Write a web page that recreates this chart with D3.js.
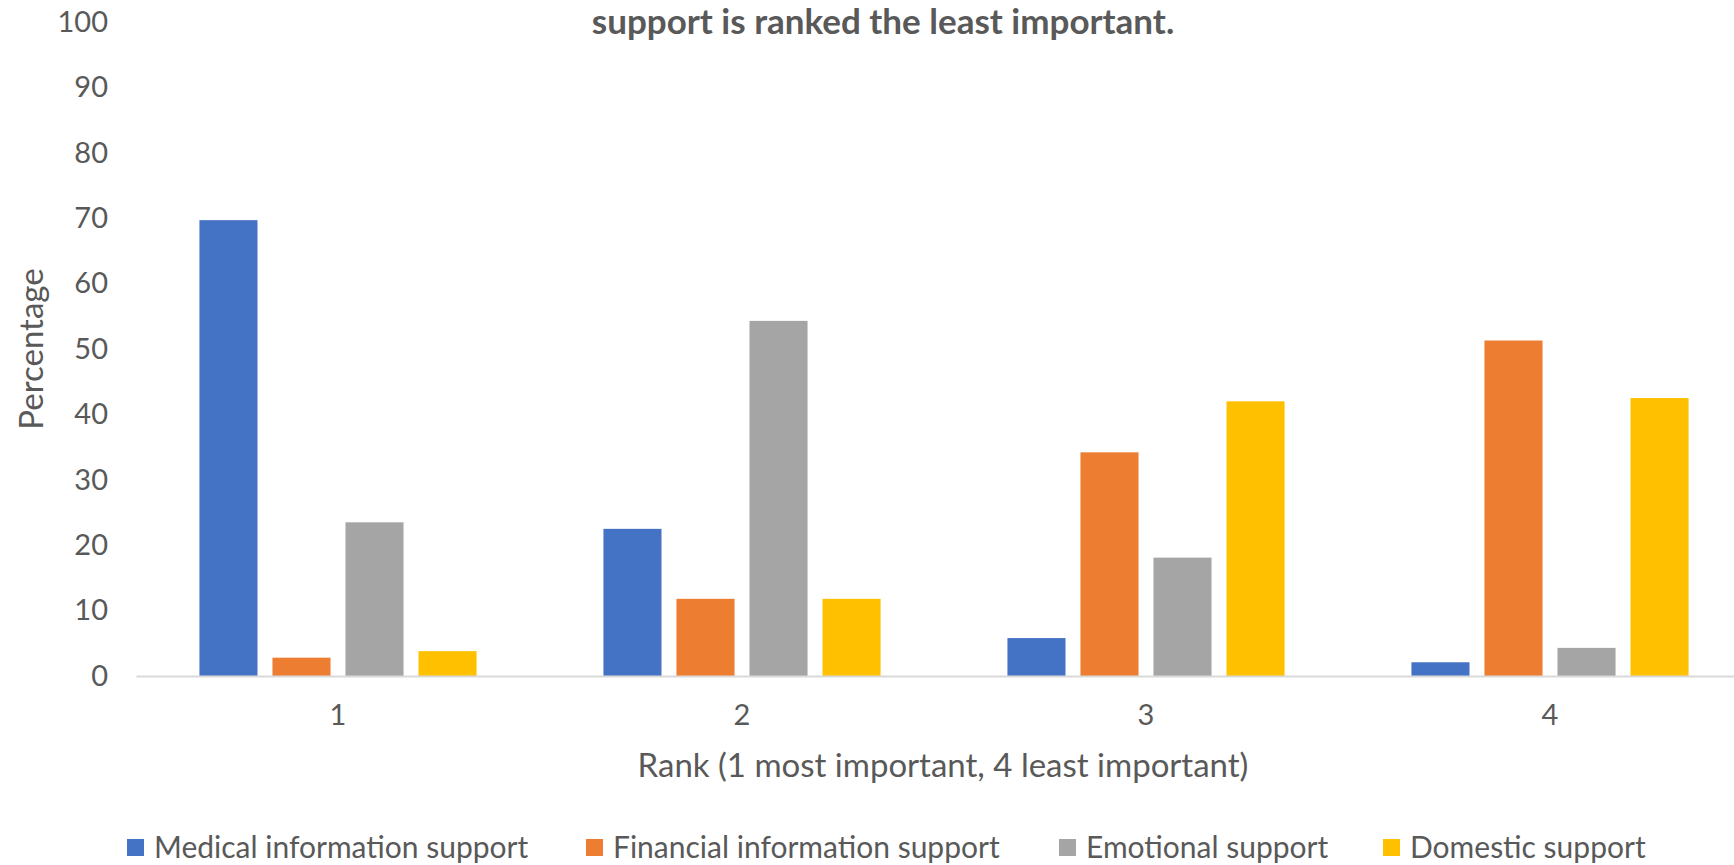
<!DOCTYPE html>
<html>
<head>
<meta charset="utf-8">
<script src="https://d3js.org/d3.v7.min.js"></script>
<style>
  body { margin:0; background:#fff; }
  text { font-family: Lato, "Noto Sans", sans-serif; fill:#595959; }
</style>
</head>
<body>
  <div id="my_dataviz"></div>
  <script>
    // data
    var categories = ["1", "2", "3", "4"];
    var seriesNames = ["Medical information support", "Financial information support", "Emotional support", "Domestic support"];
    var medical   = [69.7, 22.5, 5.8, 2.1];
    var financial = [2.8, 11.8, 34.2, 51.3];
    var emotional = [23.5, 54.3, 18.1, 4.3];
    var domestic  = [3.8, 11.8, 42.0, 42.5];
    var yTicks = [0, 10, 20, 30, 40, 50, 60, 70, 80, 90, 100];
    var colors = ["#4472C4", "#ED7D31", "#A5A5A5", "#FFC000"];

    var width = 1734, height = 865;
    var plot = {left:136, right:1752, top:22, bottom:676};

    var svg = d3.select("#my_dataviz")
      .append("svg")
      .attr("width", width)
      .attr("height", height);

    var allSeries = [medical, financial, emotional, domestic];

    var x0 = d3.scaleBand()
      .domain(categories)
      .range([plot.left, plot.right])
      .paddingInner(0.314)
      .paddingOuter(0.157);

    var x1 = d3.scaleBand()
      .domain(d3.range(seriesNames.length))
      .range([0, x0.bandwidth()])
      .paddingInner(0.205);

    var y = d3.scaleLinear()
      .domain([0, 100])
      .range([plot.bottom, plot.top]);

    // y axis labels (no line, no ticks)
    var yAxis = svg.append("g")
      .attr("transform", "translate(" + plot.left + ",0)")
      .call(d3.axisLeft(y).tickValues(yTicks).tickSize(0).tickPadding(28));
    yAxis.select(".domain").remove();
    yAxis.selectAll("text")
      .style("font-size", "29px")
      .style("font-family", "Lato, 'Noto Sans', sans-serif")
      .attr("fill", "#595959");

    // bars
    var groups = svg.selectAll("g.cat")
      .data(categories)
      .enter()
      .append("g")
      .attr("class", "cat")
      .attr("transform", function(d) { return "translate(" + x0(d) + ",0)"; });

    groups.selectAll("rect")
      .data(function(d, i) { return allSeries.map(function(s, j) { return {s:j, v:s[i]}; }); })
      .enter()
      .append("rect")
      .attr("x", function(d) { return x1(d.s); })
      .attr("y", function(d) { return y(d.v); })
      .attr("width", x1.bandwidth())
      .attr("height", function(d) { return y(0) - y(d.v); })
      .style("fill", function(d) { return colors[d.s]; });

    // x axis
    var xAxis = svg.append("g")
      .attr("transform", "translate(0," + plot.bottom + ")")
      .call(d3.axisBottom(x0).tickSize(0).tickPadding(28));
    xAxis.select(".domain")
      .attr("stroke", "#D9D9D9")
      .attr("stroke-width", 2);
    xAxis.selectAll("text")
      .style("font-size", "29px")
      .style("font-family", "Lato, 'Noto Sans', sans-serif")
      .attr("fill", "#595959");

    // titles
    svg.append("text")
      .attr("x", 883)
      .attr("y", 34)
      .attr("text-anchor", "middle")
      .style("font-size", "35px")
      .style("font-weight", "bold")
      .text("support is ranked the least important.");

    svg.append("text")
      .attr("transform", "translate(43,349) rotate(-90)")
      .attr("text-anchor", "middle")
      .style("font-size", "33px")
      .text("Percentage");

    svg.append("text")
      .attr("x", 943)
      .attr("y", 777)
      .attr("text-anchor", "middle")
      .style("font-size", "33px")
      .text("Rank (1 most important, 4 least important)");

    // legend
    var legendX = [127, 586, 1059, 1383];
    var legend = svg.selectAll("g.legend")
      .data(seriesNames)
      .enter()
      .append("g")
      .attr("class", "legend")
      .attr("transform", function(d, i) { return "translate(" + legendX[i] + ",848)"; });

    legend.append("rect")
      .attr("x", 0)
      .attr("y", -9)
      .attr("width", 17)
      .attr("height", 17)
      .style("fill", function(d, i) { return colors[i]; });

    legend.append("text")
      .attr("x", 27)
      .attr("y", 10)
      .style("font-size", "30px")
      .text(function(d) { return d; });
  </script>
</body>
</html>
